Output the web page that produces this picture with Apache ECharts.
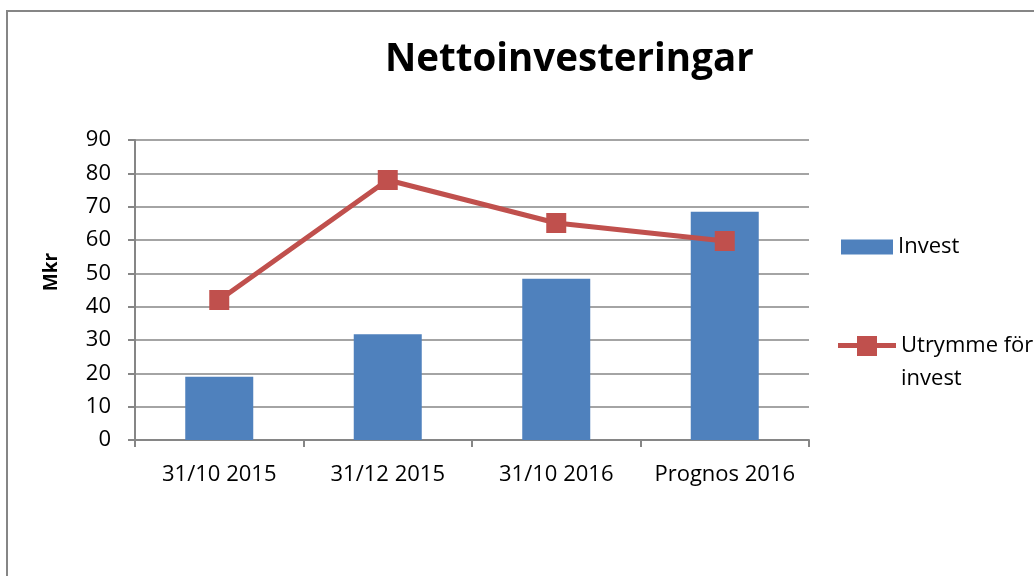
<!DOCTYPE html>
<html>
<head>
<meta charset="utf-8">
<script src="https://cdn.jsdelivr.net/npm/echarts@6/dist/echarts.min.js"></script>
<style>
  html, body { margin: 0; padding: 0; background: #fff; }
  #chart { width: 1034px; height: 576px; }
</style>
</head>
<body>
<div id="chart"></div>
<script>
// data
const categories = ['31/10 2015', '31/12 2015', '31/10 2016', 'Prognos 2016'];
const investValues = [19, 31.7, 48.4, 68.5];
const utrymmeValues = [42, 78, 65.1, 59.7];
const yTicks = { min: 0, max: 90, interval: 10 };

const FONT = 'Open Sans';
const chart = echarts.init(document.getElementById('chart'));

// legend icon for the line: line + square sitting on the first text row
const lineIcon = 'path://M0,0 M58,66 M0,14 L58,14 L58,19 L0,19 Z M19,7 L39,7 L39,27 L19,27 Z';

const option = {
  backgroundColor: '#fff',
  animation: false,
  textStyle: { fontFamily: FONT },
  title: {
    text: 'Nettoinvesteringar',
    left: 380,
    top: 36,
    textStyle: { fontFamily: FONT, fontSize: 38.5, fontWeight: 'bold', color: '#000' }
  },
  // outer chart frame (cut off at right/bottom in the original)
  graphic: [{
    type: 'rect',
    shape: { x: 7, y: 11, width: 1200, height: 800 },
    style: { fill: null, stroke: '#868686', lineWidth: 2 },
    silent: true
  }],
  legend: [{
    orient: 'vertical',
    left: 836,
    top: 231,
    itemWidth: 52,
    itemHeight: 15,
    data: [{ name: 'Invest', icon: 'rect' }],
    textStyle: { fontFamily: FONT, fontSize: 22, color: '#000' }
  }, {
    orient: 'vertical',
    left: 833,
    top: 324,
    itemWidth: 58,
    itemHeight: 66,
    symbolKeepAspect: false,
    data: [{ name: 'Utrymme för invest', icon: lineIcon }],
    formatter: () => 'Utrymme för\ninvest',
    textStyle: { fontFamily: FONT, fontSize: 22, lineHeight: 33, color: '#000' }
  }],
  grid: { left: 135, right: 225, top: 140, bottom: 136, containLabel: false },
  xAxis: {
    type: 'category',
    data: categories,
    boundaryGap: true,
    axisLine: { lineStyle: { color: '#868686', width: 2 } },
    axisTick: { show: true, alignWithLabel: false, length: 7, lineStyle: { color: '#868686', width: 2 } },
    axisLabel: { color: '#000', fontSize: 22, margin: 24, interval: 0, fontFamily: FONT }
  },
  yAxis: {
    type: 'value',
    min: yTicks.min,
    max: yTicks.max,
    interval: yTicks.interval,
    name: 'Mkr',
    nameLocation: 'middle',
    nameGap: 74,
    nameRotate: 90,
    nameTextStyle: { color: '#000', fontSize: 19, fontWeight: 'bold', fontFamily: FONT, padding: [0, 0, 0, 36] },
    axisLine: { show: true, lineStyle: { color: '#868686', width: 2 } },
    axisTick: { show: true, length: 7, lineStyle: { color: '#868686', width: 2 } },
    axisLabel: { color: '#000', fontSize: 22, margin: 24, fontFamily: FONT },
    splitLine: { show: true, lineStyle: { color: '#868686', width: 1.5 } }
  },
  series: [{
    name: 'Invest',
    type: 'bar',
    data: investValues,
    barWidth: 68,
    itemStyle: { color: '#4F81BD' }
  }, {
    name: 'Utrymme för invest',
    type: 'line',
    data: utrymmeValues,
    symbol: 'rect',
    symbolSize: 20,
    lineStyle: { color: '#C0504D', width: 5 },
    itemStyle: { color: '#C0504D' }
  }]
};

chart.setOption(option);
</script>
</body>
</html>
